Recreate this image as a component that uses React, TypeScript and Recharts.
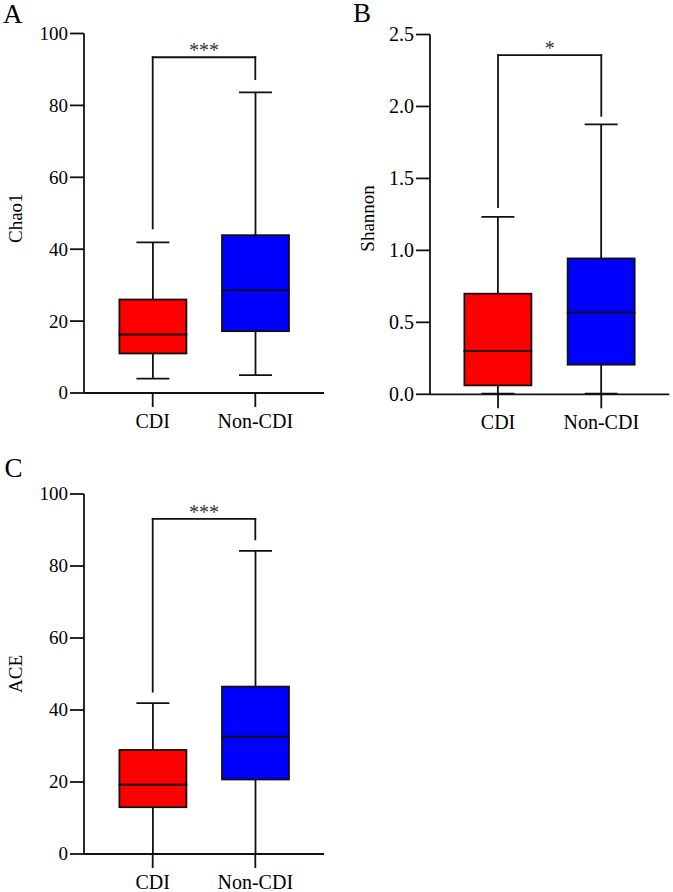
import { ComposedChart, Bar, XAxis, YAxis, ReferenceLine } from "recharts"

const FONT = '"Liberation Serif", "Times New Roman", Times, serif'
const INK = "#111"
const LINE_W = 1.8
const CAP_W = 33

const categories = ["CDI", "Non-CDI"]
const boxColors = ["#ff0000", "#0000ff"]

// A: Chao1
const chao1Min = [4.0, 5.0]
const chao1Q1 = [11.0, 17.2]
const chao1Median = [16.3, 28.6]
const chao1Q3 = [26.0, 43.9]
const chao1Max = [41.9, 83.6]
const chao1Bracket = [45.8, 93.4, 87.3] // left leg end, top, right leg end
const chao1Sig = "***"

// B: Shannon
const shannonMin = [0.005, 0.005]
const shannonQ1 = [0.062, 0.206]
const shannonMedian = [0.3, 0.569]
const shannonQ3 = [0.699, 0.944]
const shannonMax = [1.233, 1.875]
const shannonBracket = [1.3, 2.356, 1.935]
const shannonSig = "*"

// C: ACE
const aceMin = [0, 0]
const aceQ1 = [13.0, 20.7]
const aceMedian = [19.3, 32.6]
const aceQ3 = [28.9, 46.5]
const aceMax = [41.9, 84.2]
const aceBracket = [45.1, 93.1, 87.4]
const aceSig = "***"

const countTicks = [0, 20, 40, 60, 80, 100]
const shannonTicks = [0, 0.5, 1.0, 1.5, 2.0, 2.5]

// eslint-disable-next-line @typescript-eslint/no-explicit-any
const LowerWhisker = (p: any) => {
  const cx = p.x + p.width / 2
  const yb = p.y + p.height
  return (
    <g stroke={INK} strokeWidth={LINE_W}>
      <line x1={cx} x2={cx} y1={p.y} y2={yb} />
      <line x1={cx - CAP_W / 2} x2={cx + CAP_W / 2} y1={yb} y2={yb} />
    </g>
  )
}

// eslint-disable-next-line @typescript-eslint/no-explicit-any
const UpperWhisker = (p: any) => {
  const cx = p.x + p.width / 2
  return (
    <g stroke={INK} strokeWidth={LINE_W}>
      <line x1={cx} x2={cx} y1={p.y} y2={p.y + p.height} />
      <line x1={cx - CAP_W / 2} x2={cx + CAP_W / 2} y1={p.y} y2={p.y} />
    </g>
  )
}

// eslint-disable-next-line @typescript-eslint/no-explicit-any
const BoxPart = (p: any) => (
  <rect x={p.x} y={p.y} width={p.width} height={p.height}
    fill={boxColors[p.index]} stroke={INK} strokeWidth={LINE_W} />
)

// eslint-disable-next-line @typescript-eslint/no-explicit-any
const CategoryTick = (p: any) => (
  <text x={p.x} y={p.y} dy="0.7em" textAnchor="middle" fill="#000"
    fontSize={20} fontFamily={FONT}>{p.payload.value}</text>
)

const makeValueTick = (size: number, fmt?: (v: number) => string) =>
  // eslint-disable-next-line @typescript-eslint/no-explicit-any
  (p: any) => (
    <text x={p.x} y={p.y} dy="0.34em" textAnchor="end" fill="#000"
      fontSize={size} fontFamily={FONT}>{fmt ? fmt(p.payload.value) : p.payload.value}</text>
  )

interface PanelProps {
  title: string
  min: number[]
  q1: number[]
  median: number[]
  q3: number[]
  max: number[]
  bracket: number[]
  sig: string
  domain: [number, number]
  ticks: number[]
  fmt?: (v: number) => string
  left: number
  top: number
  width: number
  height: number
  margin: { top: number; right: number; bottom: number; left: number }
  yAxisWidth: number
  xAxisHeight: number
  padX: number
  titleOffset: number
  titleDy: number
  tickFontSize: number
}

function Panel(props: PanelProps) {
  const { min, q1, median, q3, max, bracket } = props
  const data = categories.map((name, i) => ({
    name,
    base: min[i],
    lowWhisker: q1[i] - min[i],
    lowBox: median[i] - q1[i],
    highBox: q3[i] - median[i],
    highWhisker: max[i] - q3[i],
  }))
  const [c0, c1] = categories

  return (
    <div style={{ position: "absolute", left: props.left, top: props.top }}>
      <ComposedChart width={props.width} height={props.height} data={data}
        margin={props.margin} style={{ fontFamily: FONT }}>
        <XAxis dataKey="name" padding={{ left: props.padX, right: props.padX }}
          height={props.xAxisHeight} tickSize={14} tickMargin={7}
          axisLine={{ stroke: INK, strokeWidth: LINE_W }}
          tickLine={{ stroke: INK, strokeWidth: LINE_W }}
          tick={CategoryTick} />
        <XAxis xAxisId="top" orientation="top" dataKey="name" height={0}
          tick={false} tickLine={false}
          axisLine={{ stroke: INK, strokeWidth: LINE_W }} />
        <YAxis domain={props.domain} ticks={props.ticks} width={props.yAxisWidth}
          interval={0} tickSize={14} tickMargin={2}
          axisLine={{ stroke: INK, strokeWidth: LINE_W }}
          tickLine={{ stroke: INK, strokeWidth: LINE_W }}
          tick={makeValueTick(props.tickFontSize, props.fmt)}
          label={{
            value: props.title, angle: -90, position: "insideLeft",
            offset: props.titleOffset, dy: props.titleDy, fill: "#000",
            fontSize: 19, fontFamily: FONT, style: { textAnchor: "middle" },
          }} />
        <YAxis yAxisId="right" orientation="right" width={0} domain={[0, 1]}
          tick={false} tickLine={false}
          axisLine={{ stroke: INK, strokeWidth: LINE_W }} />
        <Bar dataKey="base" stackId="box" barSize={67} shape={() => <g />} isAnimationActive={false} />
        <Bar dataKey="lowWhisker" stackId="box" barSize={67} shape={LowerWhisker} isAnimationActive={false} />
        <Bar dataKey="lowBox" stackId="box" barSize={67} shape={BoxPart} isAnimationActive={false} />
        <Bar dataKey="highBox" stackId="box" barSize={67} shape={BoxPart} isAnimationActive={false} />
        <Bar dataKey="highWhisker" stackId="box" barSize={67} shape={UpperWhisker} isAnimationActive={false} />
        <ReferenceLine segment={[{ x: c0, y: bracket[0] }, { x: c0, y: bracket[1] }]}
          stroke={INK} strokeWidth={LINE_W} strokeLinecap="square" />
        <ReferenceLine segment={[{ x: c1, y: bracket[2] }, { x: c1, y: bracket[1] }]}
          stroke={INK} strokeWidth={LINE_W} strokeLinecap="square" />
        <ReferenceLine segment={[{ x: c0, y: bracket[1] }, { x: c1, y: bracket[1] }]}
          stroke={INK} strokeWidth={LINE_W} strokeLinecap="square"
          label={{ value: props.sig, position: "top", offset: 0, fill: "#333", fontSize: 20, fontFamily: FONT }} />
      </ComposedChart>
    </div>
  )
}

const letterStyle = {
  position: "absolute" as const, fontFamily: FONT, fontSize: 27, lineHeight: "27px", color: "#000",
}

export default function App() {
  return (
    <div style={{ position: "absolute", left: 0, top: 0, width: 673, height: 892, background: "#fff", fontFamily: FONT }}>
      <Panel title="Chao1" min={chao1Min} q1={chao1Q1} median={chao1Median} q3={chao1Q3} max={chao1Max}
        bracket={chao1Bracket} sig={chao1Sig} domain={[0, 100]} ticks={countTicks}
        left={0} top={0} width={340} height={440}
        margin={{ top: 33.5, right: 16, bottom: 7, left: 0 }}
        yAxisWidth={84} xAxisHeight={40} padX={17.4} titleOffset={15} titleDy={5} tickFontSize={19} />
      <Panel title="Shannon" min={shannonMin} q1={shannonQ1} median={shannonMedian} q3={shannonQ3} max={shannonMax}
        bracket={shannonBracket} sig={shannonSig} domain={[0, 2.5]} ticks={shannonTicks}
        fmt={(v) => v.toFixed(1)}
        left={340} top={0} width={333} height={440}
        margin={{ top: 34.5, right: 3.7, bottom: 5.7, left: 0 }}
        yAxisWidth={90} xAxisHeight={40} padX={16.4} titleOffset={27} titleDy={4} tickFontSize={20} />
      <Panel title="ACE" min={aceMin} q1={aceQ1} median={aceMedian} q3={aceQ3} max={aceMax}
        bracket={aceBracket} sig={aceSig} domain={[0, 100]} ticks={countTicks}
        left={0} top={450} width={340} height={442}
        margin={{ top: 44, right: 16, bottom: 0, left: 0 }}
        yAxisWidth={84} xAxisHeight={38} padX={17.4} titleOffset={15} titleDy={0} tickFontSize={19} />
      <div style={{ ...letterStyle, left: 3, top: 1 }}>A</div>
      <div style={{ ...letterStyle, left: 353, top: 0 }}>B</div>
      <div style={{ ...letterStyle, left: 4.5, top: 455 }}>C</div>
    </div>
  )
}
